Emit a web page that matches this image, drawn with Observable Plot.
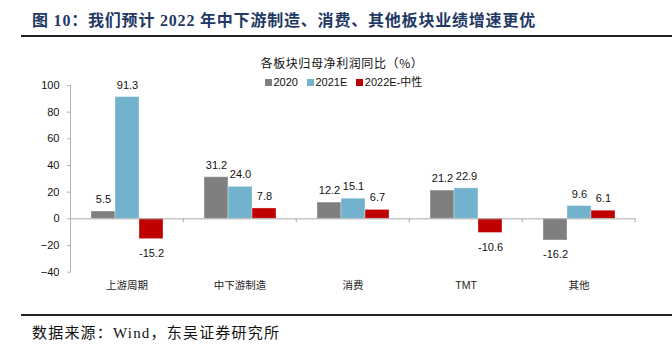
<!DOCTYPE html>
<html><head><meta charset="utf-8">
<script src="https://cdn.jsdelivr.net/npm/d3@7"></script>
<script src="https://cdn.jsdelivr.net/npm/@observablehq/plot@0.6"></script>
<style>
body{margin:0;background:#fff;}
#wrap{position:relative;width:672px;height:348px;overflow:hidden;font-family:"Liberation Sans","Noto Sans CJK SC",sans-serif;background:#fff;}
#title{position:absolute;left:32px;top:11px;font-family:"Liberation Serif","Noto Sans CJK SC",serif;font-weight:bold;font-size:16px;letter-spacing:0.8px;line-height:20px;color:#1f3864;white-space:nowrap;}
.rule{position:absolute;left:21px;right:0;height:2px;background:#222;}
#subtitle{position:absolute;left:242px;width:200px;top:55px;text-align:center;font-family:"Noto Sans CJK SC",sans-serif;font-size:12px;letter-spacing:0.6px;line-height:16px;color:#111;}
#legend{position:absolute;left:265px;top:75px;display:flex;gap:9px;font-size:11px;line-height:14px;color:#111;}
#legend .it{display:flex;align-items:center;}
#legend .sw{width:7px;height:7px;margin-right:1.5px;}
#chart{position:absolute;left:0;top:0;}
#source{position:absolute;left:32px;top:323px;font-family:"Liberation Serif","Noto Sans CJK SC",serif;font-size:15px;letter-spacing:1.2px;line-height:20px;color:#111;white-space:nowrap;}
</style></head><body>
<div id="wrap">
 <div id="title">图 10：我们预计 2022 年中下游制造、消费、其他板块业绩增速更优</div>
 <div class="rule" style="top:34.5px"></div>
 <div id="subtitle">各板块归母净利润同比（%）</div>
 <div id="chart"></div>
 <div id="legend"></div>
 <div class="rule" style="top:314px"></div>
 <div id="source">数据来源：Wind，东吴证券研究所</div>
</div>
<script>
const categories = ["上游周期","中下游制造","消费","TMT","其他"];
const seriesNames = ["2020","2021E","2022E-中性"];
const v2020 = [5.5, 31.2, 12.2, 21.2, -16.2];
const v2021E = [91.3, 24.0, 15.1, 22.9, 9.6];
const v2022E = [-15.2, 7.8, 6.7, -10.6, 6.1];
const yTicks = [-40, -20, 0, 20, 40, 60, 80, 100];
const colors = ["#7f7f7f", "#72b2cc", "#c00000"];

const seriesValues = [v2020, v2021E, v2022E];
const data = [];
categories.forEach((c, i) => {
  seriesNames.forEach((s, j) => data.push({cat: c, series: s, value: seriesValues[j][i]}));
});

const legend = document.getElementById("legend");
seriesNames.forEach((s, j) => {
  const it = document.createElement("div"); it.className = "it";
  const sw = document.createElement("div"); sw.className = "sw"; sw.style.background = colors[j];
  const t = document.createElement("span"); t.textContent = s;
  it.appendChild(sw); it.appendChild(t); legend.appendChild(it);
});

const chart = Plot.plot({
  width: 672, height: 300,
  marginTop: 85, marginBottom: 28.3, marginLeft: 69, marginRight: 36,
  style: {fontFamily: "Liberation Sans, Noto Sans CJK SC, sans-serif", fontSize: "11px", background: "transparent"},
  fx: {domain: categories, padding: 0},
  x: {domain: seriesNames, paddingInner: 0, paddingOuter: 0.768, axis: null},
  y: {domain: [-40, 100]},
  color: {domain: seriesNames, range: colors},
  marks: [
    Plot.frame({anchor: "left", facetAnchor: "left", stroke: "#b5b5b5"}),
    Plot.axisY({ticks: yTicks, tickSize: 3, tickPadding: 8, label: null, stroke: "#b5b5b5", fill: "#111", fontSize: 11}),
    Plot.axisFx({anchor: "bottom", tickSize: 0, tickPadding: 9, label: null, fill: "#222", fontSize: 10.5}),
    Plot.barY(data, {fx: "cat", x: "series", y: "value", fill: "series", stroke: "#fff", strokeOpacity: 0.35, strokeWidth: 1}),
    Plot.ruleY([0], {stroke: "#aaa"}),
    Plot.ruleX([seriesNames[2]], {x: d => d, dx: 31.7, y1: 0, y2: -3, stroke: "#aaa"}),
    Plot.text(data, {filter: d => d.value >= 0, fx: "cat", x: "series", y: "value", text: d => d.value.toFixed(1), dy: -12, fill: "#111", fontSize: 11}),
    Plot.text(data, {filter: d => d.value < 0, fx: "cat", x: "series", y: "value", text: d => d.value.toFixed(1), dy: 14, fill: "#111", fontSize: 11})
  ]
});
document.getElementById("chart").appendChild(chart);
</script>
</body></html>
